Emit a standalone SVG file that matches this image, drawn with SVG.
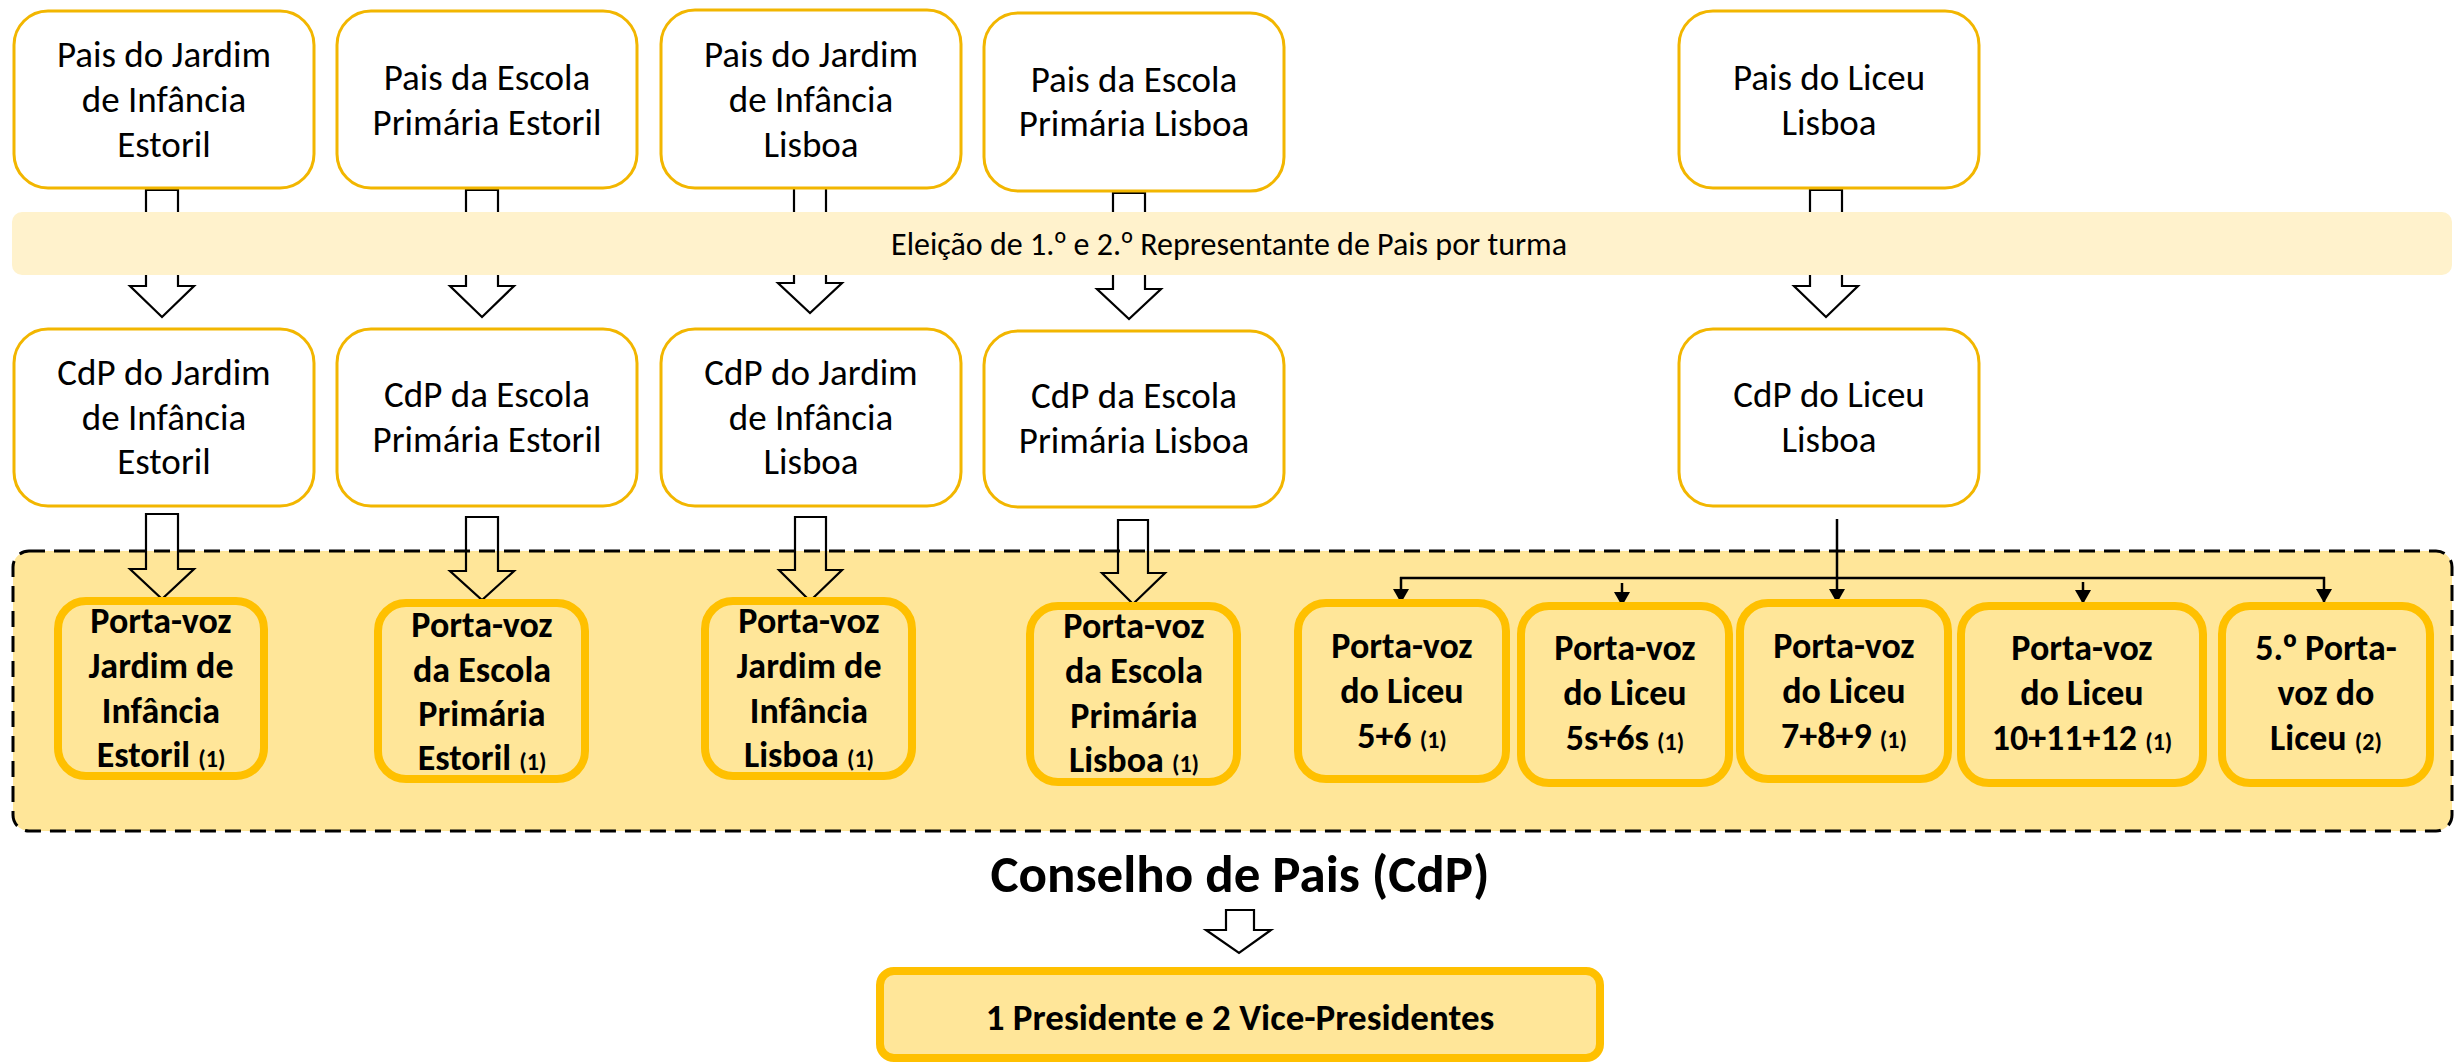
<svg xmlns="http://www.w3.org/2000/svg" width="2456" height="1063" viewBox="0 0 2456 1063">
<defs>
<style>
.t{font-family:"Carlito","Lato","Liberation Sans",sans-serif;fill:#000;text-anchor:middle}
.n{font-size:37px}
.b{font-size:36px;font-weight:bold}
.s{font-size:24px}
.o{font-family:"Noto Sans","Liberation Sans",sans-serif}
.top{fill:#FFFFFF;stroke:#F2B600;stroke-width:3}
.pv{fill:#FFE699;stroke:#FFC000;stroke-width:8}
.blk{fill:none;stroke:#000;stroke-width:2.2;stroke-linejoin:miter}
.ln{fill:none;stroke:#000;stroke-width:2.5}
</style>
<marker id="ah" viewBox="0 0 14 16" refX="13" refY="8" markerWidth="14" markerHeight="16" markerUnits="userSpaceOnUse" orient="auto">
<path d="M0,0 L14,8 L0,16 Z" fill="#000"/>
</marker>
</defs>
<rect width="2456" height="1063" fill="#FFFFFF"/>

<g id="cdp-region">
<rect x="13" y="551" width="2439" height="280" rx="16" fill="#FFE699" stroke="#000" stroke-width="3" stroke-dasharray="16 9"/>
</g>

<g id="connectors">
<path class="blk" d="M146,190 H178 V286 H194 L162,317 L130,286 H146 Z"/>
<path class="blk" d="M466,190 H498 V286 H514 L482,317 L450,286 H466 Z"/>
<path class="blk" d="M794,186 H826 V283 H842 L810,313 L778,283 H794 Z"/>
<path class="blk" d="M1113,193 H1145 V289 H1161 L1129,319 L1097,289 H1113 Z"/>
<path class="blk" d="M1810,190 H1842 V286 H1858 L1826,317 L1794,286 H1810 Z"/>
<path class="blk" d="M146,514 H178 V569 H194 L162,599 L130,569 H146 Z"/>
<path class="blk" d="M466,517 H498 V571 H514 L482,600 L450,571 H466 Z"/>
<path class="blk" d="M795,517 H826 V570 H842 L810,601 L779,570 H795 Z"/>
<path class="blk" d="M1118,520 H1148 V573 H1165 L1133,604 L1102,573 H1118 Z"/>
<path class="blk" d="M1226,910 H1254 V930 H1271 L1239,953 L1206,930 H1226 Z"/>
<line class="ln" x1="1837" y1="519" x2="1837" y2="602" marker-end="url(#ah)"/>
<line class="ln" x1="1400" y1="578" x2="2325" y2="578"/>
<line class="ln" x1="1401" y1="577" x2="1401" y2="602" marker-end="url(#ah)"/>
<line class="ln" x1="1622" y1="583" x2="1622" y2="605" marker-end="url(#ah)"/>
<line class="ln" x1="2083" y1="582" x2="2083" y2="603" marker-end="url(#ah)"/>
<line class="ln" x1="2324" y1="577" x2="2324" y2="602" marker-end="url(#ah)"/>
</g>

<g id="band">
<rect x="12" y="212" width="2440" height="63" rx="10" fill="#FFF2CC"/>
<text class="t" x="1229" y="255" font-size="32">Eleição de 1.<tspan class="o">º</tspan> e 2.<tspan class="o">º</tspan> Representante de Pais por turma</text>
</g>

<g id="pais-jardim-estoril">
<rect class="top" x="14" y="11" width="300" height="177" rx="34"/>
<text class="t n"><tspan x="164" y="67">Pais do Jardim</tspan><tspan x="164" y="112">de Infância</tspan><tspan x="164" y="157">Estoril</tspan></text>
</g>
<g id="pais-escola-estoril">
<rect class="top" x="337" y="11" width="300" height="177" rx="34"/>
<text class="t n"><tspan x="487" y="90">Pais da Escola</tspan><tspan x="487" y="135">Primária Estoril</tspan></text>
</g>
<g id="pais-jardim-lisboa">
<rect class="top" x="661" y="10" width="300" height="178" rx="34"/>
<text class="t n"><tspan x="811" y="67">Pais do Jardim</tspan><tspan x="811" y="112">de Infância</tspan><tspan x="811" y="157">Lisboa</tspan></text>
</g>
<g id="pais-escola-lisboa">
<rect class="top" x="984" y="13" width="300" height="178" rx="34"/>
<text class="t n"><tspan x="1134" y="92">Pais da Escola</tspan><tspan x="1134" y="136">Primária Lisboa</tspan></text>
</g>
<g id="pais-liceu-lisboa">
<rect class="top" x="1679" y="11" width="300" height="177" rx="34"/>
<text class="t n"><tspan x="1829" y="90">Pais do Liceu</tspan><tspan x="1829" y="135">Lisboa</tspan></text>
</g>

<g id="cdp-jardim-estoril">
<rect class="top" x="14" y="329" width="300" height="177" rx="34"/>
<text class="t n"><tspan x="164" y="385">CdP do Jardim</tspan><tspan x="164" y="430">de Infância</tspan><tspan x="164" y="474">Estoril</tspan></text>
</g>
<g id="cdp-escola-estoril">
<rect class="top" x="337" y="329" width="300" height="177" rx="34"/>
<text class="t n"><tspan x="487" y="407">CdP da Escola</tspan><tspan x="487" y="452">Primária Estoril</tspan></text>
</g>
<g id="cdp-jardim-lisboa">
<rect class="top" x="661" y="329" width="300" height="177" rx="34"/>
<text class="t n"><tspan x="811" y="385">CdP do Jardim</tspan><tspan x="811" y="430">de Infância</tspan><tspan x="811" y="474">Lisboa</tspan></text>
</g>
<g id="cdp-escola-lisboa">
<rect class="top" x="984" y="331" width="300" height="176" rx="34"/>
<text class="t n"><tspan x="1134" y="408">CdP da Escola</tspan><tspan x="1134" y="453">Primária Lisboa</tspan></text>
</g>
<g id="cdp-liceu-lisboa">
<rect class="top" x="1679" y="329" width="300" height="177" rx="34"/>
<text class="t n"><tspan x="1829" y="407">CdP do Liceu</tspan><tspan x="1829" y="452">Lisboa</tspan></text>
</g>

<g id="pv-jardim-estoril">
<rect class="pv" x="58" y="601" width="206" height="175" rx="28"/>
<text class="t b"><tspan x="161" y="633">Porta-voz</tspan><tspan x="161" y="678">Jardim de</tspan><tspan x="161" y="723">Infância</tspan><tspan x="161" y="767">Estoril <tspan class="s">(1)</tspan></tspan></text>
</g>
<g id="pv-escola-estoril">
<rect class="pv" x="378" y="603" width="207" height="176" rx="28"/>
<text class="t b"><tspan x="482" y="637">Porta-voz</tspan><tspan x="482" y="682">da Escola</tspan><tspan x="482" y="726">Primária</tspan><tspan x="482" y="770">Estoril <tspan class="s">(1)</tspan></tspan></text>
</g>
<g id="pv-jardim-lisboa">
<rect class="pv" x="705" y="601" width="207" height="175" rx="28"/>
<text class="t b"><tspan x="809" y="633">Porta-voz</tspan><tspan x="809" y="678">Jardim de</tspan><tspan x="809" y="723">Infância</tspan><tspan x="809" y="767">Lisboa <tspan class="s">(1)</tspan></tspan></text>
</g>
<g id="pv-escola-lisboa">
<rect class="pv" x="1030" y="606" width="207" height="176" rx="28"/>
<text class="t b"><tspan x="1134" y="638">Porta-voz</tspan><tspan x="1134" y="683">da Escola</tspan><tspan x="1134" y="728">Primária</tspan><tspan x="1134" y="772">Lisboa <tspan class="s">(1)</tspan></tspan></text>
</g>
<g id="pv-liceu-5-6">
<rect class="pv" x="1298" y="603" width="208" height="176" rx="28"/>
<text class="t b"><tspan x="1402" y="658">Porta-voz</tspan><tspan x="1402" y="703">do Liceu</tspan><tspan x="1402" y="748">5+6 <tspan class="s">(1)</tspan></tspan></text>
</g>
<g id="pv-liceu-5s-6s">
<rect class="pv" x="1521" y="606" width="208" height="177" rx="28"/>
<text class="t b"><tspan x="1625" y="660">Porta-voz</tspan><tspan x="1625" y="705">do Liceu</tspan><tspan x="1625" y="750">5s+6s <tspan class="s">(1)</tspan></tspan></text>
</g>
<g id="pv-liceu-7-8-9">
<rect class="pv" x="1740" y="603" width="208" height="176" rx="28"/>
<text class="t b"><tspan x="1844" y="658">Porta-voz</tspan><tspan x="1844" y="703">do Liceu</tspan><tspan x="1844" y="748">7+8+9 <tspan class="s">(1)</tspan></tspan></text>
</g>
<g id="pv-liceu-10-11-12">
<rect class="pv" x="1961" y="606" width="242" height="177" rx="28"/>
<text class="t b"><tspan x="2082" y="660">Porta-voz</tspan><tspan x="2082" y="705">do Liceu</tspan><tspan x="2082" y="750">10+11+12 <tspan class="s">(1)</tspan></tspan></text>
</g>
<g id="pv-liceu-5o">
<rect class="pv" x="2222" y="606" width="208" height="177" rx="28"/>
<text class="t b"><tspan x="2326" y="660">5.<tspan class="o">º</tspan> Porta-</tspan><tspan x="2326" y="705">voz do</tspan><tspan x="2326" y="750">Liceu <tspan class="s">(2)</tspan></tspan></text>
</g>

<g id="conselho-title">
<text class="t" x="1240" y="892" font-size="53" font-weight="bold">Conselho de Pais (CdP)</text>
</g>

<g id="presidentes">
<rect class="pv" x="880" y="971" width="720" height="87" rx="14"/>
<text class="t" x="1240" y="1030" font-size="37" font-weight="bold">1 Presidente e 2 Vice-Presidentes</text>
</g>
</svg>
